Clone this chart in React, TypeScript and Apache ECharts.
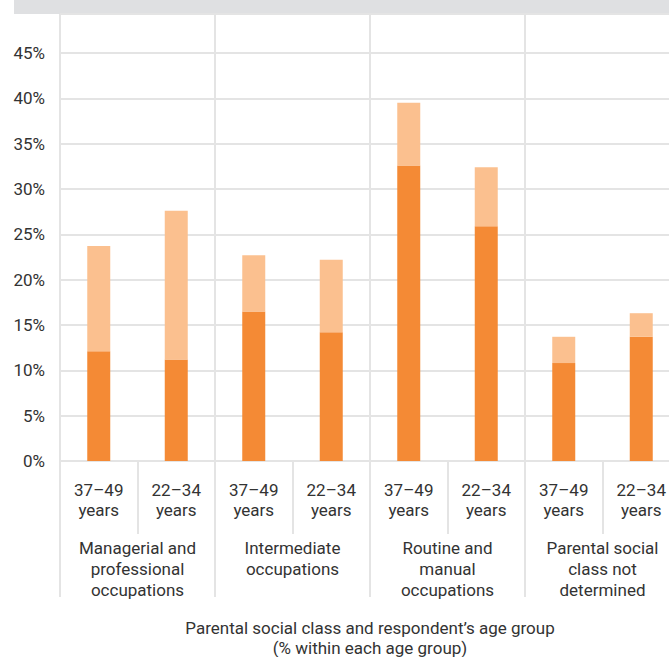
import React, { useEffect, useRef } from "react";
import * as echarts from "echarts";

// Age bands within each parental social class
const ageLabels = [
  "37\u201349\nyears", "22\u201334\nyears",
  "37\u201349\nyears", "22\u201334\nyears",
  "37\u201349\nyears", "22\u201334\nyears",
  "37\u201349\nyears", "22\u201334\nyears",
];

const classLabels = [
  "Managerial and\nprofessional\noccupations",
  "Intermediate\noccupations",
  "Routine and\nmanual\noccupations",
  "Parental social\nclass not\ndetermined",
];

// Lower (dark) segment and total stack height, % within each age group
const lowerValues = [12.1, 11.2, 16.5, 14.2, 32.6, 25.9, 10.8, 13.7];
const totalValues = [23.7, 27.6, 22.7, 22.2, 39.5, 32.4, 13.7, 16.3];

const yTicks = [0, 5, 10, 15, 20, 25, 30, 35, 40, 45];

const FONT = "Roboto, 'DejaVu Sans', sans-serif";
const TEXT = "#333333";
const LINE = "#e4e4e4";
const FS = 17;

export default function App() {
  const ref = useRef<HTMLDivElement>(null);

  useEffect(() => {
    if (!ref.current) return;
    const chart = echarts.init(ref.current, null, { renderer: "svg" });
    const upperValues = totalValues.map((t, i) => +(t - lowerValues[i]).toFixed(2));

    chart.setOption({
      animation: false,
      grid: {
        left: 60,
        top: 14,
        width: 620,
        height: 447,
        containLabel: false,
        outerBoundsMode: "none",
      },
      graphic: [
        {
          type: "rect",
          left: 14,
          top: 0,
          shape: { width: 700, height: 14 },
          style: { fill: "#dfe0e2" },
          silent: true,
        },
      ],
      xAxis: [
        {
          type: "category",
          data: ageLabels,
          position: "bottom",
          axisLine: { show: true, lineStyle: { color: LINE, width: 2 } },
          axisTick: {
            show: true,
            interval: 0,
            length: 73,
            lineStyle: { color: LINE, width: 2 },
          },
          axisLabel: {
            interval: 0,
            margin: 19,
            color: TEXT,
            fontFamily: FONT,
            fontSize: FS,
            lineHeight: 20,
          },
          name: "Parental social class and respondent\u2019s age group\n(% within each age group)",
          nameLocation: "middle",
          nameGap: 157,
          nameTextStyle: {
            color: TEXT,
            fontFamily: FONT,
            fontSize: FS,
            lineHeight: 20,
            verticalAlign: "top",
          },
        },
        {
          type: "category",
          data: classLabels,
          position: "bottom",
          axisLine: { show: false },
          axisTick: {
            show: true,
            interval: 0,
            length: 136,
            lineStyle: { color: LINE, width: 2 },
          },
          splitLine: {
            show: true,
            interval: 0,
            lineStyle: { color: LINE, width: 2 },
          },
          axisLabel: {
            interval: 0,
            margin: 76,
            color: TEXT,
            fontFamily: FONT,
            fontSize: FS,
            lineHeight: 21,
          },
        },
      ],
      yAxis: {
        type: "value",
        min: 0,
        max: 49.3,
        interval: 5,
        axisLine: { show: false },
        axisTick: { show: false },
        splitLine: { show: true, lineStyle: { color: LINE, width: 2 } },
        axisLabel: {
          margin: 15,
          color: TEXT,
          fontFamily: FONT,
          fontSize: FS,
          showMaxLabel: false,
          formatter: (v: number) => (yTicks.includes(v) ? `${v}%` : ""),
        },
      },
      series: [
        {
          type: "bar",
          stack: "share",
          xAxisIndex: 0,
          barWidth: 23,
          data: lowerValues,
          itemStyle: { color: "#f48a35" },
        },
        {
          type: "bar",
          stack: "share",
          xAxisIndex: 0,
          barWidth: 23,
          data: upperValues,
          itemStyle: { color: "#fbc08f" },
        },
      ],
    });

    return () => chart.dispose();
  }, []);

  return (
    <div
      style={{
        position: "fixed",
        left: 0,
        top: 0,
        width: 669,
        height: 657,
        overflow: "hidden",
        background: "#ffffff",
      }}
    >
      <div ref={ref} style={{ width: 700, height: 657 }} />
    </div>
  );
}
